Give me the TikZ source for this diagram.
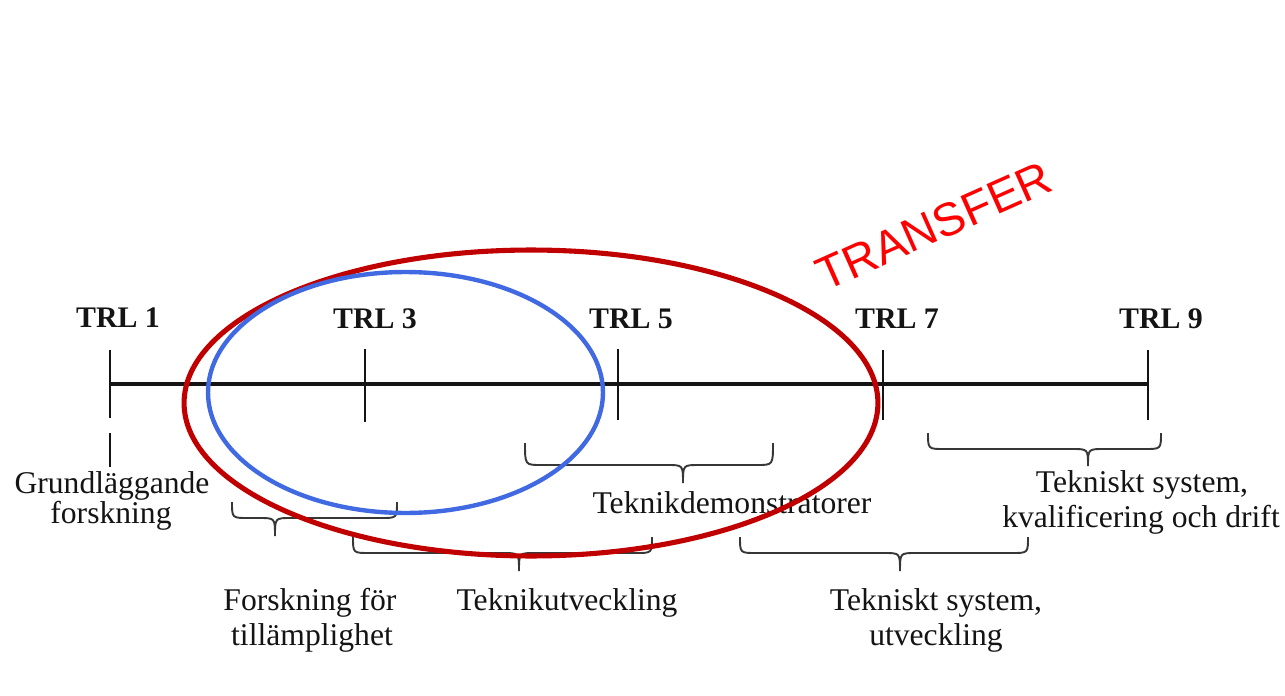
\documentclass[tikz,border=0pt]{standalone}
\usepackage{fontspec}
\setmainfont{Liberation Serif}
\newfontfamily\arialfont{Liberation Sans}
\definecolor{ellred}{RGB}{192,0,0}
\definecolor{ellblue}{RGB}{65,105,225}
\definecolor{txtred}{RGB}{255,0,0}
\definecolor{ink}{RGB}{20,20,20}
\begin{document}
\begin{tikzpicture}[x=0.02cm,y=-0.02cm,
  trl/.style={inner sep=0pt,anchor=base,text=ink,font=\fontsize{17}{20}\selectfont\bfseries},
  lbl/.style={inner sep=0pt,anchor=base,text=ink,font=\fontsize{18}{21}\selectfont},
  axis/.style={line width=2.3pt,ink},
  tick/.style={line width=1.2pt,ink},
  brc/.style={line width=1.1pt,ink!85},
  ell/.style={line width=2.9pt}]
\useasboundingbox (0,0) rectangle (1285,696);
% axis coordinates
\coordinate (a1) at (110,384);
\coordinate (a9) at (1148,384);
\coordinate (t1a) at (110,350); \coordinate (t1b) at (110,418);
\coordinate (t1c) at (110,433); \coordinate (t1d) at (110,467);
\coordinate (t3a) at (365,349); \coordinate (t3b) at (365,422);
\coordinate (t5a) at (618,349); \coordinate (t5b) at (618,420);
\coordinate (t7a) at (883,350); \coordinate (t7b) at (883,420);
\coordinate (t9a) at (1148,350); \coordinate (t9b) at (1148,420);
\draw[axis] (a1) -- (a9);
\draw[tick] (t1a) -- (t1b);
\draw[tick] (t1c) -- (t1d);
\draw[tick] (t3a) -- (t3b);
\draw[tick] (t5a) -- (t5b);
\draw[tick] (t7a) -- (t7b);
\draw[tick] (t9a) -- (t9b);
% TRL labels
\node[trl] (l1) at (118,327) {TRL 1};
\node[trl] (l3) at (375,328) {TRL 3};
\node[trl] (l5) at (631,328) {TRL 5};
\node[trl] (l7) at (897,328) {TRL 7};
\node[trl] (l9) at (1161,328) {TRL 9};
% braces
\newcommand{\mybrace}[6]{% xl xr ytop yh xt ytip
  \draw[brc] (#1,#3) .. controls (#1,#4) .. ({#1+16},#4) -- ({#5-16},#4)
    .. controls (#5,#4) .. (#5,#6) .. controls (#5,#4) .. ({#5+16},#4)
    -- ({#2-16},#4) .. controls (#2,#4) .. (#2,#3);}
\mybrace{232}{397}{502}{518}{275}{536}
\mybrace{525}{773}{443}{465}{683}{483}
\mybrace{928}{1161}{433}{449}{1088}{466}
\mybrace{353}{652}{537}{553}{519}{571}
\mybrace{740}{1028}{537}{553}{900}{571}
% lower labels
\node[lbl] (g1) at (112,493) {Grundläggande};
\node[lbl] (g2) at (111,523) {forskning};
\node[lbl] (td) at (732,513) {Teknikdemonstratorer};
\node[lbl] (k1) at (1142,492) {Tekniskt system,};
\node[lbl] (k2) at (1141,527) {kvalificering och drift};
\node[lbl] (f1) at (310,610) {Forskning för};
\node[lbl] (f2) at (312,645) {tillämplighet};
\node[lbl] (tu) at (567,610) {Teknikutveckling};
\node[lbl] (s1) at (936,610) {Tekniskt system,};
\node[lbl] (s2) at (936,645) {utveckling};
% ellipses
\draw[ell,ellred] (531,403) ellipse [x radius=6.94cm, y radius=3.06cm];
\draw[ell,ellblue,line width=2.5pt] (405.5,392.5) ellipse [x radius=3.95cm, y radius=2.41cm];
% transfer
\node[inner sep=0pt,text=txtred,rotate=24,font=\arialfont\fontsize{26.5}{30}\selectfont] (tr) at (934,226) {TRANSFER};
\end{tikzpicture}
\end{document}
